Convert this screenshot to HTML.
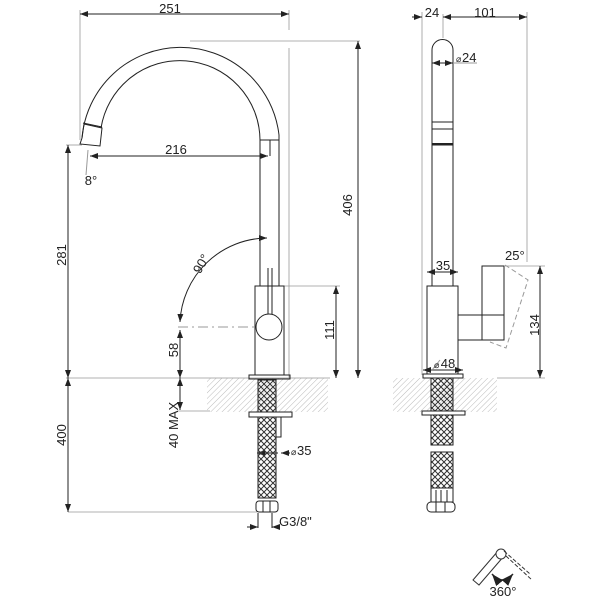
<!DOCTYPE html>
<html><head><style>body{margin:0;background:#fff}svg{display:block}text{font-family:"Liberation Sans",sans-serif;fill:#222}</style></head><body>
<svg width="600" height="600" viewBox="0 0 600 600" xmlns="http://www.w3.org/2000/svg">
<defs>
<pattern id="h" width="4" height="4" patternUnits="userSpaceOnUse" patternTransform="rotate(45)"><line x1="0" y1="0" x2="0" y2="4" stroke="#bbb" stroke-width="1"/></pattern>
<pattern id="m" width="6" height="6" patternUnits="userSpaceOnUse"><path d="M0 0L6 6M6 0L0 6" stroke="#333" stroke-width="1"/></pattern>
<marker id="a" markerWidth="8" markerHeight="6" refX="8" refY="3" orient="auto-start-reverse"><path d="M0 0L8 3L0 6z" fill="#222"/></marker>
</defs>
<rect x="207" y="378" width="121" height="34" fill="url(#h)"/>
<rect x="393" y="378" width="104" height="34" fill="url(#h)"/>
<g stroke="#999" stroke-width="0.8" fill="none">
<line x1="80" y1="10" x2="80" y2="140"/><line x1="289" y1="10" x2="289" y2="30"/><line x1="289" y1="48" x2="289" y2="378"/>
<line x1="190" y1="41" x2="360" y2="41"/><line x1="66" y1="145" x2="82" y2="145"/>
<line x1="66" y1="378" x2="330" y2="378"/><line x1="68" y1="512" x2="257" y2="512"/>
<line x1="284" y1="286" x2="340" y2="286"/><line x1="178" y1="411" x2="210" y2="411"/>
<line x1="422" y1="12" x2="422" y2="375"/><line x1="443" y1="14" x2="443" y2="38"/><line x1="527" y1="12" x2="527" y2="262"/>
<line x1="505" y1="266" x2="545" y2="266"/><line x1="497" y1="378" x2="545" y2="378"/>
</g>
<g stroke="#222" stroke-width="1" fill="none">
<line x1="80" y1="14" x2="289" y2="14" marker-start="url(#a)" marker-end="url(#a)"/>
<line x1="90" y1="156" x2="268" y2="156" marker-start="url(#a)" marker-end="url(#a)"/>
<line x1="358" y1="41" x2="358" y2="378" marker-start="url(#a)" marker-end="url(#a)"/>
<line x1="68" y1="145" x2="68" y2="378" marker-start="url(#a)" marker-end="url(#a)"/>
<line x1="68" y1="378" x2="68" y2="512" marker-start="url(#a)" marker-end="url(#a)"/>
<line x1="336" y1="286" x2="336" y2="378" marker-start="url(#a)" marker-end="url(#a)"/>
<line x1="180" y1="330" x2="180" y2="378" marker-start="url(#a)" marker-end="url(#a)"/>
<line x1="180" y1="378" x2="180" y2="410" marker-start="url(#a)" marker-end="url(#a)"/>
<path d="M267 238 A88 88 0 0 0 180 322" marker-start="url(#a)" marker-end="url(#a)"/>
<path d="M82 138 A99 99 0 0 1 279 135 L279 286"/>
<path d="M101 128 A80 80 0 0 1 260 140 L260 286"/>
<path d="M82 138 L80 144 L100 146 L102 128 L84 124z"/>
<line x1="83" y1="123" x2="102" y2="127"/>
<line x1="260" y1="140" x2="279" y2="140"/><line x1="270" y1="140" x2="270" y2="156"/>
<rect x="255" y="286" width="29" height="89"/><rect x="249" y="375" width="41" height="4"/>
<line x1="268" y1="268" x2="268" y2="314"/><line x1="272" y1="268" x2="272" y2="314"/>
<circle cx="269" cy="327" r="13"/>
<line x1="178" y1="327" x2="256" y2="327" stroke="#999" stroke-dasharray="10,4,2,4"/>
<line x1="88" y1="150" x2="86" y2="175" stroke="#999"/>
<line x1="257" y1="453" x2="278" y2="453" marker-start="url(#a)"/><line x1="281" y1="453" x2="290" y2="453" marker-start="url(#a)"/>
<line x1="258" y1="513" x2="258" y2="528"/><line x1="272" y1="513" x2="272" y2="528"/>
<line x1="247" y1="527" x2="258" y2="527" marker-end="url(#a)"/><line x1="272" y1="527" x2="278" y2="527" marker-start="url(#a)"/>
<line x1="412" y1="17" x2="422" y2="17" marker-end="url(#a)"/>
<line x1="443" y1="17" x2="527" y2="17" marker-start="url(#a)" marker-end="url(#a)"/>
<path d="M432 286 L432 50 A10.5 10.5 0 0 1 453 50 L453 286"/>
<line x1="432" y1="122" x2="453" y2="122"/><rect x="432" y="129" width="21" height="16"/><line x1="432" y1="144" x2="453" y2="144" stroke-width="2"/>
<line x1="432" y1="63" x2="453" y2="63" marker-start="url(#a)" marker-end="url(#a)"/><line x1="453" y1="63" x2="477" y2="63" stroke="#999"/>
<line x1="427" y1="272" x2="458" y2="272" marker-start="url(#a)" marker-end="url(#a)"/>
<rect x="427" y="286" width="31" height="88"/><rect x="423" y="374" width="40" height="4"/>
<line x1="423" y1="370" x2="463" y2="370" marker-start="url(#a)" marker-end="url(#a)"/>
<line x1="440" y1="360" x2="432" y2="370" stroke="#999"/>
<rect x="458" y="315" width="24" height="25"/><rect x="482" y="266" width="22" height="74"/>
<line x1="482" y1="315" x2="504" y2="315"/>
<path d="M505 265 L528 280 L506 348 L490 342" stroke="#999" stroke-dasharray="5,3"/>
<line x1="540" y1="266" x2="540" y2="378" marker-start="url(#a)" marker-end="url(#a)"/>
</g>
<g stroke="#222" fill="url(#m)">
<rect x="258" y="380" width="18" height="118"/>
<rect x="431" y="378" width="22" height="67"/>
<rect x="431" y="452" width="22" height="36"/>
</g>
<g stroke="#222" fill="#fff">
<rect x="249" y="412" width="43" height="5"/>
<rect x="276" y="417" width="5" height="20"/>
<rect x="256" y="501" width="22" height="11" rx="3"/><line x1="263" y1="501" x2="263" y2="512"/><line x1="270" y1="501" x2="270" y2="512"/>
<rect x="422" y="411" width="43" height="4"/>
<rect x="431" y="488" width="22" height="14"/><line x1="436" y1="490" x2="436" y2="502"/><line x1="441" y1="490" x2="441" y2="502"/><line x1="447" y1="490" x2="447" y2="502"/>
<rect x="427" y="502" width="28" height="10" rx="4"/><line x1="436" y1="502" x2="436" y2="512"/><line x1="445" y1="502" x2="445" y2="512"/>
</g>
<g fill="none" stroke="#333" stroke-width="1">
<path d="M473 580 L498 551 L504 556 L479 585z"/>
<circle cx="501" cy="554" r="5" fill="#fff"/>
<path d="M506 556 L532 580" stroke-dasharray="4,2"/><path d="M504 551 L530 574" stroke-dasharray="4,2"/>
<path d="M492 574 Q502 586 513 574" marker-start="url(#a)" marker-end="url(#a)" stroke-width="1.5"/>
</g>
<g font-size="13">
<text x="170" y="13" text-anchor="middle">251</text>
<text x="176" y="154" text-anchor="middle">216</text>
<text x="91" y="185" text-anchor="middle">8°</text>
<text transform="translate(205,266) rotate(-60)" text-anchor="middle">90°</text>
<text transform="translate(352,205) rotate(-90)" text-anchor="middle">406</text>
<text transform="translate(66,255) rotate(-90)" text-anchor="middle">281</text>
<text transform="translate(66,435) rotate(-90)" text-anchor="middle">400</text>
<text transform="translate(334,330) rotate(-90)" text-anchor="middle">111</text>
<text transform="translate(178,350) rotate(-90)" text-anchor="middle">58</text>
<text transform="translate(178,425) rotate(-90)" text-anchor="middle">40 MAX</text>
<text x="297" y="455">35</text><text x="291" y="455" font-size="9">⌀</text>
<text x="279" y="526">G3/8"</text>
<text x="432" y="17" text-anchor="middle">24</text>
<text x="485" y="17" text-anchor="middle">101</text>
<text x="462" y="62">24</text><text x="456" y="62" font-size="9">⌀</text>
<text x="443" y="270" text-anchor="middle">35</text>
<text x="448" y="368" text-anchor="middle">48</text><text x="434" y="368" font-size="9">⌀</text>
<text x="505" y="260">25°</text>
<text transform="translate(539,325) rotate(-90)" text-anchor="middle">134</text>
<text x="503" y="596" text-anchor="middle">360°</text>
</g>
</svg>
</body></html>
